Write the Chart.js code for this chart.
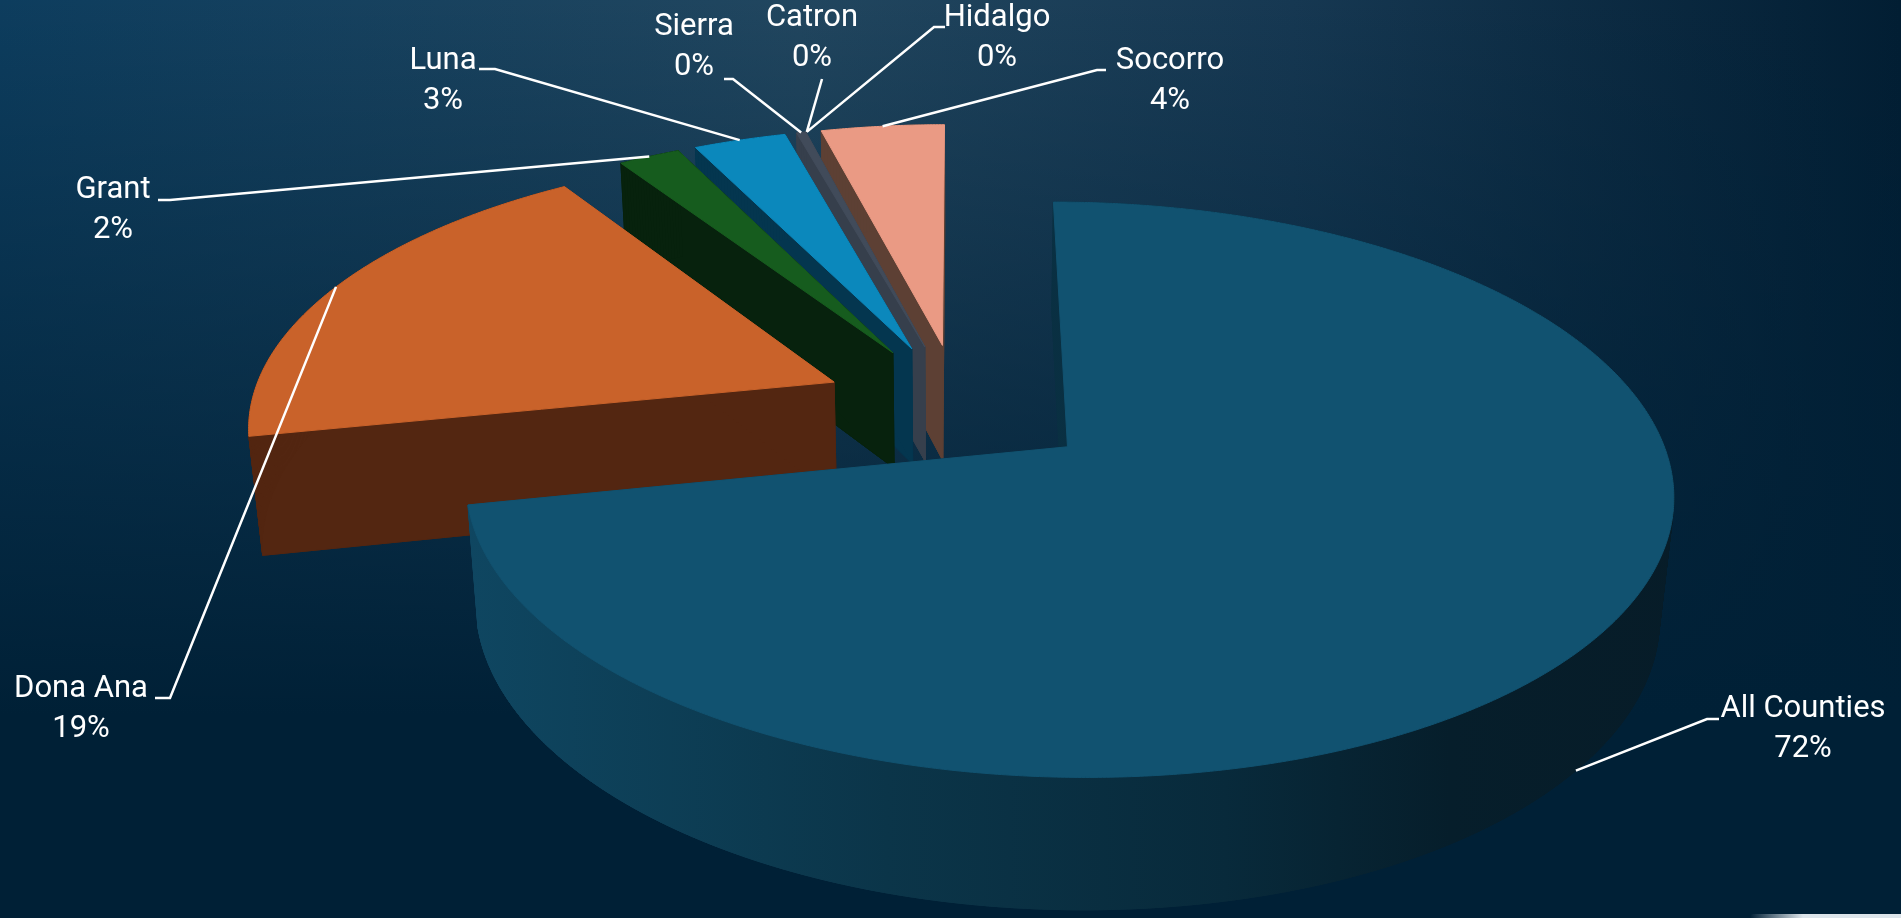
<!DOCTYPE html>
<html>
<head>
<meta charset="utf-8">
<script src="https://cdn.jsdelivr.net/npm/chart.js@4.4.1/dist/chart.umd.min.js"></script>
<style>
  html, body { margin: 0; padding: 0; overflow: hidden; }
  body {
    width: 1901px;
    height: 918px;
    background:
      linear-gradient(to bottom, rgba(0,32,54,0) 0%, rgba(0,32,54,0.55) 42%, rgba(0,32,54,1) 78%),
      linear-gradient(to right, #0d3d5e 0%, #21465f 42%, #163852 68%, #021e33 100%);
  }
  #wrap { position: relative; width: 1901px; height: 918px; }
  #corner {
    position: absolute; left: 1750px; top: 914px; width: 151px; height: 4px;
    border-radius: 3px 0 0 0;
    background: linear-gradient(to right, rgba(220,228,234,0), #dce4ea 35%);
  }
</style>
</head>
<body>
<div id="wrap"><canvas id="pie"></canvas><div id="corner"></div></div>
<script>
// slices, clockwise from 12 o'clock
const counties = ['All Counties', 'Dona Ana', 'Grant', 'Luna', 'Sierra', 'Catron', 'Hidalgo', 'Socorro'];
const shares = [72, 19, 2, 3, 0.3, 0, 0, 4];

const topColors = ['#115270', '#c9622a', '#165c1e', '#0b88bc', '#414b5a', '#a5a5a5', '#ffc000', '#ea9a84'];
const sideColors = ['#0c3a52', '#532611', '#07220d', '#04364f', '#363f4c', '#444444', '#5a4a10', '#5d4034'];

// label layout: text centre, then where the leader leaves the text and its elbow
const labelPos = [[1803, 709], [81, 689], [113, 190], [443, 61], [694, 27], [812, 18], [997, 18], [1170, 61]];
const leaderStart = [[1719, 719], [155, 698], [158, 200], [479, 69], [724, 79], [822, 79], [945, 27], [1106, 70]];
const leaderElbow = [[1707, 719], [170, 698], [170, 200], [495, 69], [733, 79], [822, 79], [934, 27], [1097, 70]];

// fake 3d view
const VIEW_DIST = 4000;
const TILT = 0.461;
const DEPTH = 120;
const SINK = 0.65;
const EXPLODE = 137;

function project(cx, cy, X, Y, Z) {
    const f = VIEW_DIST / (VIEW_DIST - Y - Z * SINK);
    return [cx + X * f, cy + (Y * TILT - Z) * f];
}

function slicePoints(el, z) {
    const mid = (el.startAngle + el.endAngle) / 2;
    const ox = Math.cos(mid) * EXPLODE;
    const oy = Math.sin(mid) * EXPLODE;
    const pts = [project(el.x, el.y, ox, oy, z)];
    const span = el.endAngle - el.startAngle;
    const n = Math.max(2, Math.ceil(span / 0.006));
    for (let i = 0; i <= n; i++) {
        const a = el.startAngle + span * i / n;
        pts.push(project(el.x, el.y, ox + Math.cos(a) * el.outerRadius, oy + Math.sin(a) * el.outerRadius, z));
    }
    return pts;
}

function poly(ctx, pts) {
    ctx.beginPath();
    ctx.moveTo(pts[0][0], pts[0][1]);
    for (let i = 1; i < pts.length; i++) ctx.lineTo(pts[i][0], pts[i][1]);
    ctx.closePath();
    ctx.fill();
    ctx.stroke();
}

const pie3d = {
    id: 'pie3d',
    beforeDatasetsDraw(chart) {
        const ctx = chart.ctx;
        const arcs = chart.getDatasetMeta(0).data;
        const order = arcs.map((el, i) => i)
            .filter(i => arcs[i].endAngle - arcs[i].startAngle > 0)
            .sort((a, b) => {
                const ma = Math.sin((arcs[a].startAngle + arcs[a].endAngle) / 2);
                const mb = Math.sin((arcs[b].startAngle + arcs[b].endAngle) / 2);
                return ma - mb;
            });

        ctx.save();
        ctx.lineWidth = 1;
        ctx.lineJoin = 'round';

        // sides, back to front
        order.forEach(i => {
            const el = arcs[i];
            const top = slicePoints(el, 0);
            const bot = slicePoints(el, -DEPTH);
            let fill = sideColors[i];
            if (i === 0) {
                const g = ctx.createLinearGradient(450, 0, 1700, 0);
                g.addColorStop(0, '#0f4762');
                g.addColorStop(0.35, '#0b3549');
                g.addColorStop(0.62, '#082a3b');
                g.addColorStop(0.8, '#061e2b');
                g.addColorStop(1, '#071c28');
                fill = g;
            }
            ctx.fillStyle = fill;
            ctx.strokeStyle = fill;
            poly(ctx, bot);
            for (let k = 0; k < top.length; k++) {
                const j = (k + 1) % top.length;
                poly(ctx, [top[k], top[j], bot[j], bot[k]]);
            }
        });

        // top faces
        order.forEach(i => {
            ctx.fillStyle = topColors[i];
            ctx.strokeStyle = topColors[i];
            poly(ctx, slicePoints(arcs[i], 0));
        });

        ctx.restore();
        return false;
    },
    afterDraw(chart) {
        const ctx = chart.ctx;
        const arcs = chart.getDatasetMeta(0).data;
        const total = shares.reduce((s, v) => s + v, 0);

        ctx.save();
        ctx.strokeStyle = '#ffffff';
        ctx.lineWidth = 2.5;
        ctx.fillStyle = '#ffffff';
        ctx.font = '31px Roboto';
        ctx.textAlign = 'center';
        ctx.textBaseline = 'middle';

        arcs.forEach((el, i) => {
            const mid = (el.startAngle + el.endAngle) / 2;
            const ox = Math.cos(mid) * EXPLODE;
            const oy = Math.sin(mid) * EXPLODE;
            const z = Math.sin(mid) > 0.3 ? -DEPTH : 0;
            const anchor = project(el.x, el.y,
                ox + Math.cos(mid) * el.outerRadius,
                oy + Math.sin(mid) * el.outerRadius, z);

            ctx.beginPath();
            ctx.moveTo(leaderStart[i][0], leaderStart[i][1]);
            ctx.lineTo(leaderElbow[i][0], leaderElbow[i][1]);
            ctx.lineTo(anchor[0], anchor[1]);
            ctx.stroke();

            const pct = Math.round(shares[i] / total * 100) + '%';
            ctx.fillText(counties[i], labelPos[i][0], labelPos[i][1]);
            ctx.fillText(pct, labelPos[i][0], labelPos[i][1] + 40);
        });
        ctx.restore();
    }
};

new Chart(document.getElementById('pie'), {
    type: 'pie',
    data: {
        labels: counties,
        datasets: [{
            data: shares,
            backgroundColor: topColors,
            borderWidth: 0
        }]
    },
    options: {
        responsive: true,
        maintainAspectRatio: false,
        animation: false,
        events: [],
        radius: 584,
        layout: { padding: { left: 17, right: 0, top: 0, bottom: 106 } },
        plugins: {
            legend: { display: false },
            tooltip: { enabled: false }
        }
    },
    plugins: [pie3d]
});
</script>
</body>
</html>
